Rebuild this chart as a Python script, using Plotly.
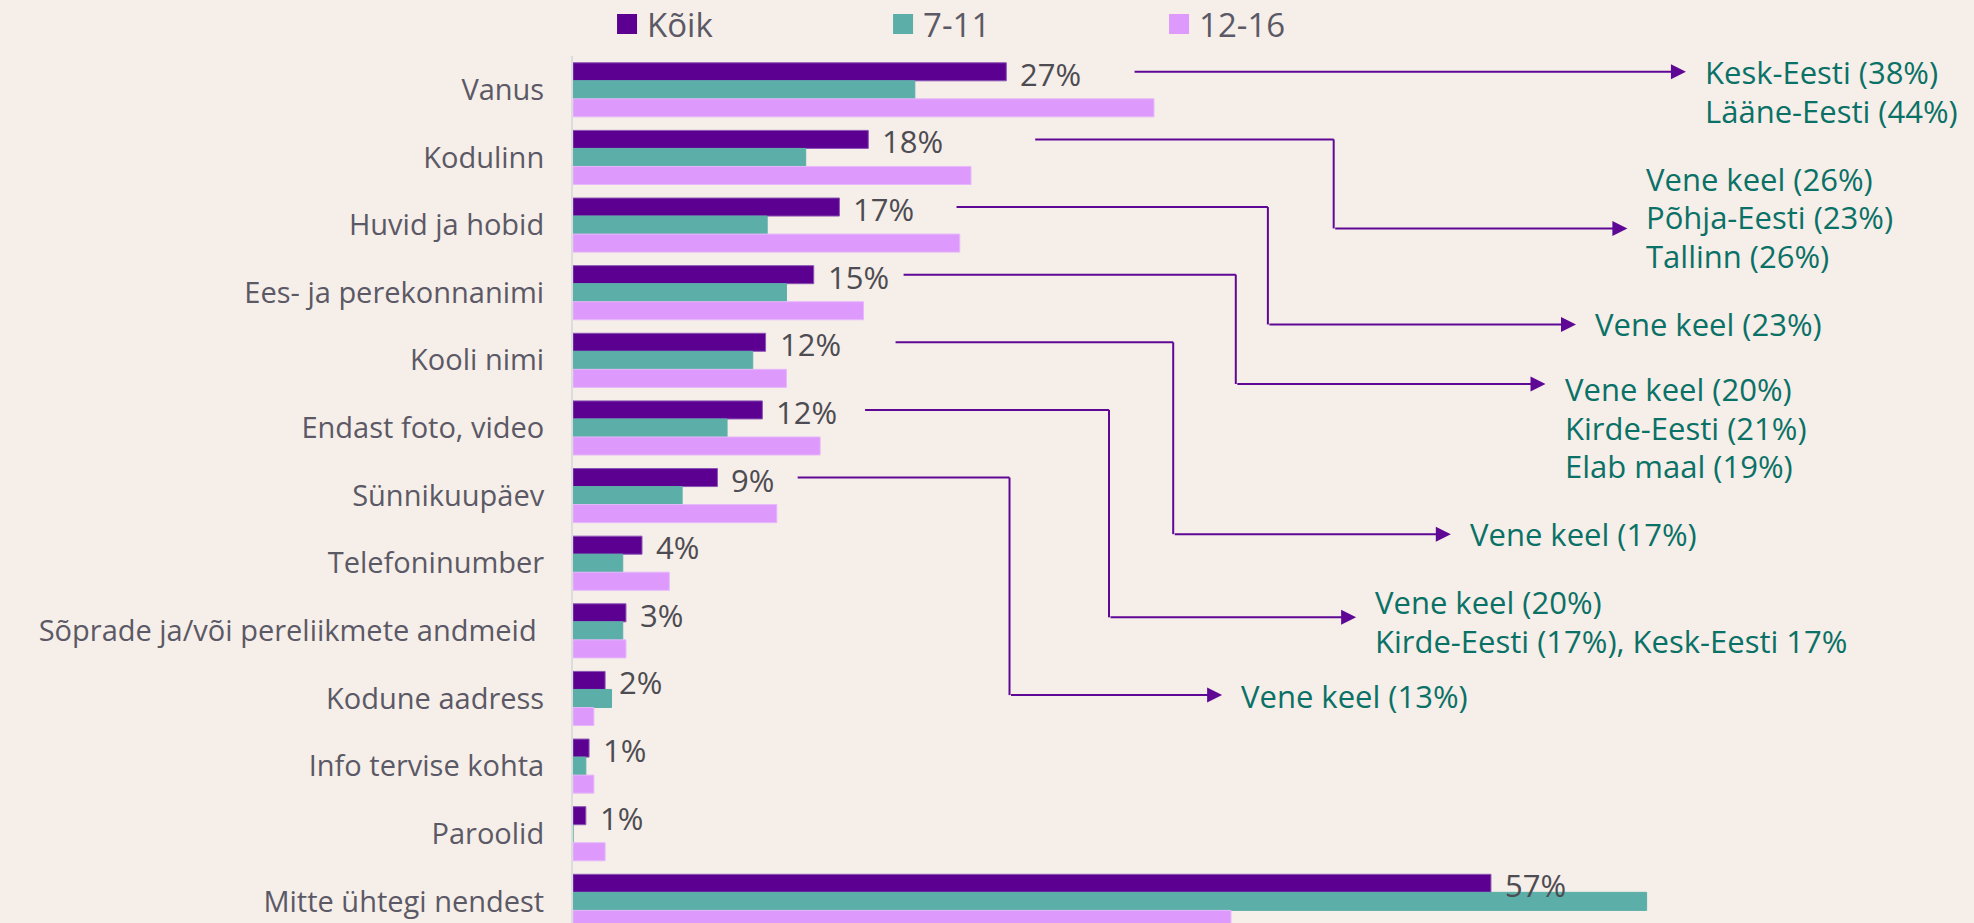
import plotly.graph_objects as go

# ---------------- data ----------------
categories = [
    "Vanus", "Kodulinn", "Huvid ja hobid", "Ees- ja perekonnanimi", "Kooli nimi",
    "Endast foto, video", "Sünnikuupäev", "Telefoninumber",
    "Sõprade ja/või pereliikmete andmeid\u00a0", "Kodune aadress", "Info tervise kohta",
    "Paroolid", "Mitte ühtegi nendest",
]
series_names = ["Kõik", "7-11", "12-16"]
koik = [27.0, 18.4, 16.6, 15.0, 12.0, 11.8, 9.0, 4.3, 3.3, 2.0, 1.0, 0.8, 57.2]
age_7_11 = [21.3, 14.5, 12.1, 13.3, 11.2, 9.6, 6.8, 3.1, 3.1, 2.4, 0.8, 0.0, 66.9]
age_12_16 = [36.2, 24.8, 24.1, 18.1, 13.3, 15.4, 12.7, 6.0, 3.3, 1.3, 1.3, 2.0, 41.0]
koik_labels = ["27%", "18%", "17%", "15%", "12%", "12%", "9%", "4%", "3%", "2%", "1%", "1%", "57%"]

# callout texts (index of the category they belong to)
callout_rows = [0, 1, 2, 3, 4, 5, 6]
callout_texts = [
    ["Kesk-Eesti (38%)", "Lääne-Eesti (44%)"],
    ["Vene keel (26%)", "Põhja-Eesti (23%)", "Tallinn (26%)"],
    ["Vene keel (23%)"],
    ["Vene keel (20%)", "Kirde-Eesti (21%)", "Elab maal (19%)"],
    ["Vene keel (17%)"],
    ["Vene keel (20%)", "Kirde-Eesti (17%), Kesk-Eesti 17%"],
    ["Vene keel (13%)"],
]

# ---------------- callout geometry (x in % units, y in category units) -------------
callout_start_x = [34.9, 28.8, 23.9, 20.6, 20.1, 18.2, 14.0]
callout_corner_x = [None, 47.4, 43.3, 41.3, 37.4, 33.4, 27.2]
callout_end_x = [69.35, 65.7, 62.5, 60.6, 54.7, 48.8, 40.45]
callout_end_y = [None, 2.05, 3.47, 4.35, 6.57, 7.80, 8.95]
callout_text_y = [0.024, 1.886, 3.47, 5.0, 6.57, 7.86, 8.96]
LINE_STEP = 0.569  # spacing of text lines, in category units

# ---------------- styles ----------------
BG = "#f6eee8"
C_KOIK = "#5c0091"
C_711 = "#5bafa8"
C_1216 = "#dd99fb"
LINE_C = "#5f0896"
TEXT_GRAY = "#5b5966"
LABEL_GRAY = "#4d4c52"
TEAL = "#0a7167"
FONT = "Open Sans"

BARGAP = 0.2
bar_w = (1 - BARGAP) / 3
koik_off = -bar_w

fig = go.Figure()
for name, vals, col, lc in [
    (series_names[0], koik, C_KOIK, "#8a55b5"),
    (series_names[1], age_7_11, C_711, C_711),
    (series_names[2], age_12_16, C_1216, "#e6b8fb"),
]:
    fig.add_trace(go.Bar(
        y=categories, x=vals, orientation="h", name=name,
        marker=dict(color=col, line=dict(color=lc, width=1)),
        showlegend=False, hoverinfo="x+y",
    ))
    fig.add_trace(go.Scatter(
        x=[None], y=[None], mode="markers", name=name,
        marker=dict(symbol="square", size=16, color=col, line=dict(color=col, width=4)),
        showlegend=True,
    ))

annotations = []
# data labels for Kõik
for i, (v, lab) in enumerate(zip(koik, koik_labels)):
    annotations.append(dict(
        x=v, y=i + koik_off, xref="x", yref="y", text=lab, showarrow=False,
        xanchor="left", yanchor="middle", xshift=12, yshift=-2,
        font=dict(family=FONT, size=31, color=LABEL_GRAY),
    ))

shapes = []
for k, row in enumerate(callout_rows):
    y0 = row + koik_off
    sx = callout_start_x[k]
    cx = callout_corner_x[k]
    ex = callout_end_x[k]
    ey = callout_end_y[k] if callout_end_y[k] is not None else y0
    if cx is None:
        tail_x = sx
    else:
        shapes.append(dict(type="line", xref="x", yref="y", x0=sx, x1=cx, y0=y0, y1=y0,
                           line=dict(color=LINE_C, width=2)))
        shapes.append(dict(type="line", xref="x", yref="y", x0=cx, x1=cx, y0=y0, y1=ey,
                           line=dict(color=LINE_C, width=2)))
        tail_x = cx
    annotations.append(dict(
        x=ex, y=ey, ax=tail_x, ay=ey, xref="x", yref="y", axref="x", ayref="y",
        text="", showarrow=True, arrowhead=2, arrowsize=1.5, arrowwidth=2,
        arrowcolor=LINE_C, standoff=0, startstandoff=0,
    ))
    lines = callout_texts[k]
    n = len(lines)
    for j, line in enumerate(lines):
        annotations.append(dict(
            x=ex, y=callout_text_y[k] + (j - (n - 1) / 2) * LINE_STEP, xref="x", yref="y",
            text=line, showarrow=False,
            xanchor="left", yanchor="middle", align="left", xshift=17,
            font=dict(family=FONT, size=31, color=TEAL),
        ))

fig.update_layout(
    width=1974, height=923,
    paper_bgcolor=BG, plot_bgcolor=BG,
    margin=dict(l=573, r=0, t=56, b=0, pad=0, autoexpand=False),
    barmode="group", bargap=BARGAP, bargroupgap=0,
    font=dict(family=FONT, color=TEXT_GRAY),
    xaxis=dict(range=[0, 87.3], visible=False, fixedrange=True),
    yaxis=dict(
        range=[12.32, -0.5], showgrid=False, zeroline=False,
        showline=True, linecolor="#dcdcdc", linewidth=2,
        ticks="", ticklabelstandoff=21,
        tickfont=dict(family=FONT, size=29, color=TEXT_GRAY),
    ),
    legend=dict(
        orientation="h", x=0.0243, xanchor="left", y=1.0369, yanchor="middle",
        entrywidth=231, entrywidthmode="pixels", itemsizing="trace",
        font=dict(family=FONT, size=33, color=TEXT_GRAY),
        bgcolor="rgba(0,0,0,0)", borderwidth=0,
        tracegroupgap=0,
    ),
    annotations=annotations,
    shapes=shapes,
)

fig.write_html(
    "out.html",
    config={"displayModeBar": False},
    post_script=(
        "document.body.style.margin='0';"
        "document.body.style.padding='0';"
        "document.body.style.overflow='hidden';"
        f"document.body.style.background='{BG}';"
    ),
)
